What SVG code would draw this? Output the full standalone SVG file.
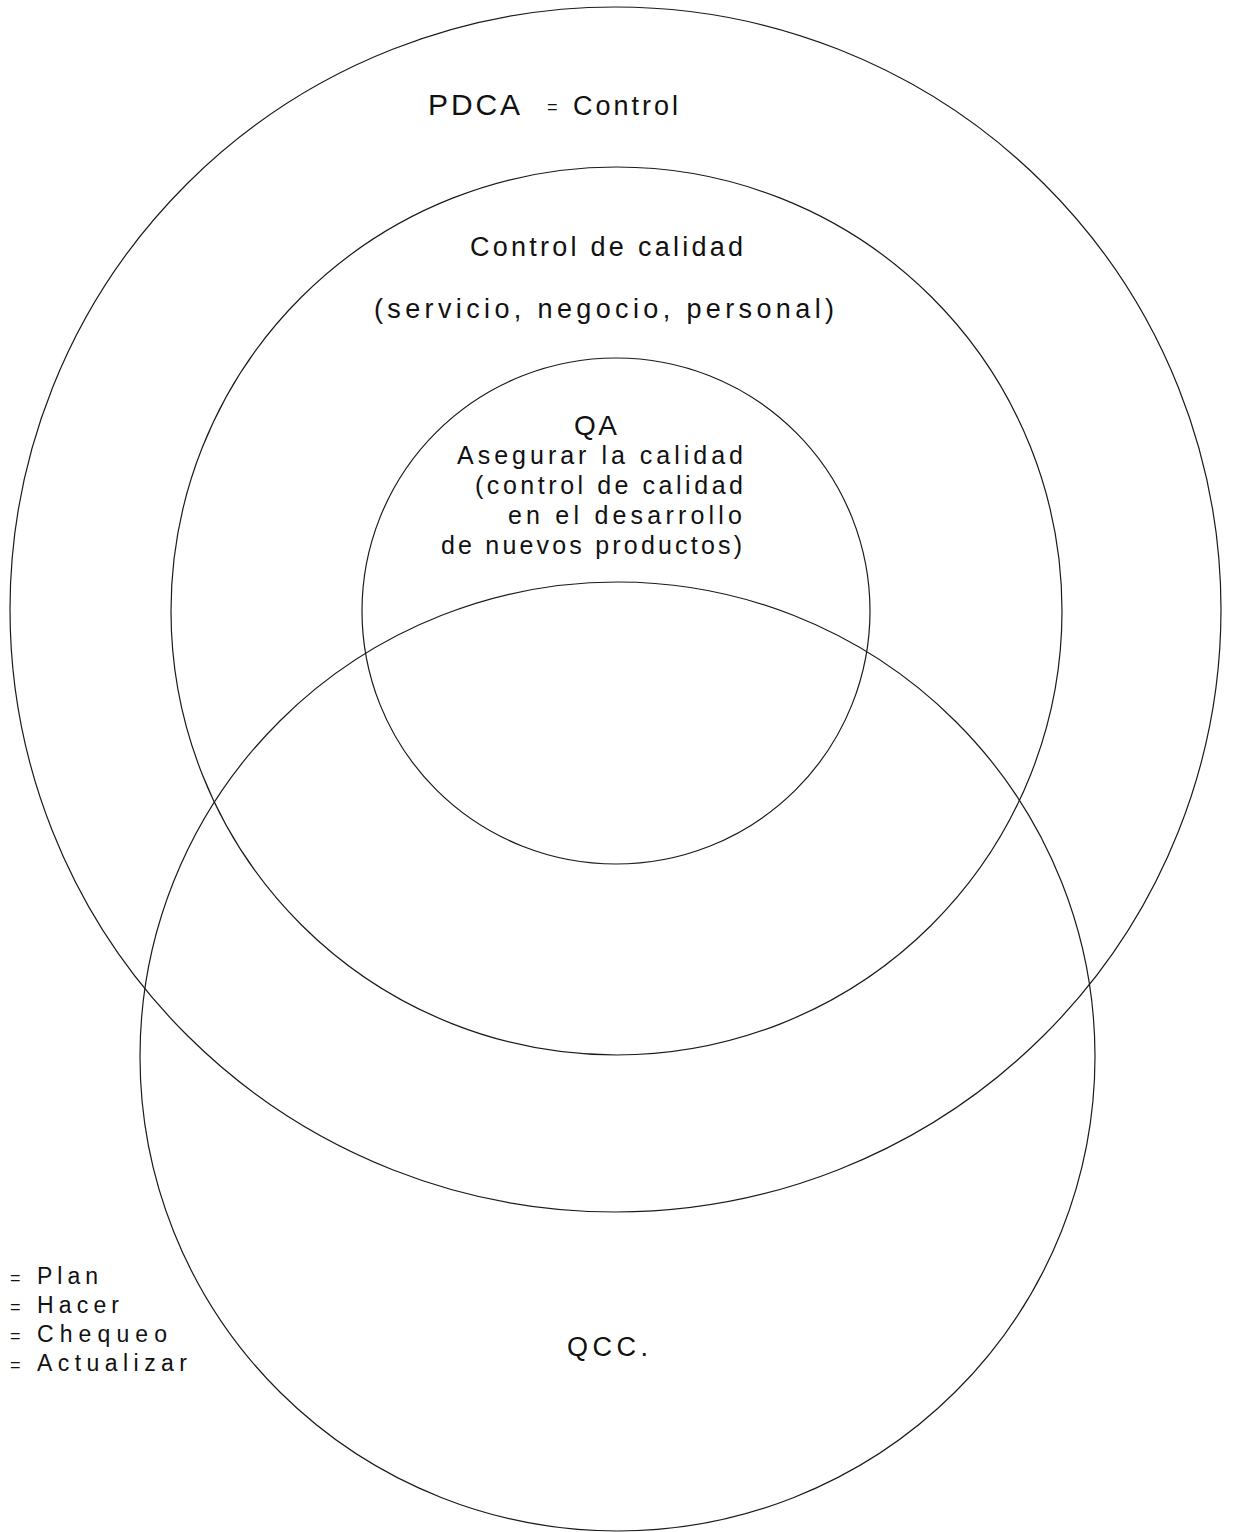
<svg xmlns="http://www.w3.org/2000/svg" width="1234" height="1532" viewBox="0 0 1234 1532">
<style>
.ring{fill:none;stroke:#1a1a1a;stroke-width:1.2}
text{font-family:"Liberation Sans",Arial,sans-serif;fill:#111}
.big{font-size:30px}
.qa{font-size:28px}
.mid{font-size:27px}
.sm{font-size:25px}
.qcc{font-size:27px}
.leg{font-size:23px}
.eq{font-size:18px}
</style>
<rect width="1234" height="1532" fill="#ffffff"/>
<g id="pdca">
<ellipse class="ring" cx="615.5" cy="609.5" rx="605.5" ry="602.5"/>
<text class="big" x="428" y="115" textLength="92" lengthAdjust="spacing">PDCA</text>
<text class="eq" x="547" y="113">=</text>
<text class="mid" x="573" y="115" textLength="105" lengthAdjust="spacing">Control</text>
</g>
<g id="control-calidad">
<ellipse class="ring" cx="616.5" cy="611" rx="445.5" ry="444"/>
<text class="mid" x="470" y="256" textLength="273" lengthAdjust="spacing">Control de calidad</text>
<text class="mid" x="374" y="318" textLength="460" lengthAdjust="spacing">(servicio, negocio, personal)</text>
</g>
<g id="qa">
<ellipse class="ring" cx="616" cy="611" rx="254" ry="253"/>
<text class="qa" x="574" y="435" textLength="43" lengthAdjust="spacing">QA</text>
<text class="sm" x="457" y="464" textLength="286" lengthAdjust="spacing">Asegurar la calidad</text>
<text class="sm" x="475" y="494" textLength="268" lengthAdjust="spacing">(control de calidad</text>
<text class="sm" x="508" y="524" textLength="234" lengthAdjust="spacing">en el desarrollo</text>
<text class="sm" x="441" y="554" textLength="301" lengthAdjust="spacing">de nuevos productos)</text>
</g>
<g id="qcc">
<ellipse class="ring" cx="617.5" cy="1056.5" rx="477.5" ry="474.5"/>
<text class="qcc" x="567" y="1356" textLength="81" lengthAdjust="spacing">QCC.</text>
</g>
<g id="legend">
<text class="eq" x="10" y="1284">=</text>
<text class="leg" x="37" y="1284" textLength="61" lengthAdjust="spacing">Plan</text>
<text class="eq" x="10" y="1313">=</text>
<text class="leg" x="37" y="1313" textLength="82" lengthAdjust="spacing">Hacer</text>
<text class="eq" x="10" y="1342">=</text>
<text class="leg" x="37" y="1342" textLength="130" lengthAdjust="spacing">Chequeo</text>
<text class="eq" x="10" y="1371">=</text>
<text class="leg" x="37" y="1371" textLength="150" lengthAdjust="spacing">Actualizar</text>
</g>
<g id="connectors"/>
</svg>
